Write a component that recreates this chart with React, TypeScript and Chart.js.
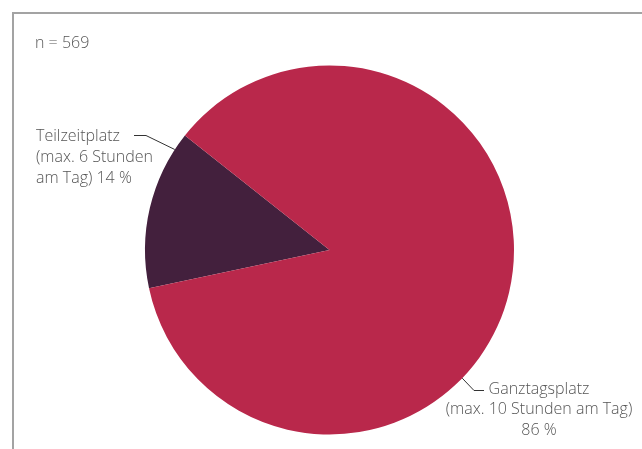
import React, { useEffect, useRef } from "react";
import { Chart, registerables } from "chart.js";

Chart.register(...registerables);

const categories = ["Teilzeitplatz", "Ganztagsplatz"];
const values = [14, 86];
const sliceColors = ["#43203D", "#B9284B"];
const labelLines = [
  ["Teilzeitplatz", "(max. 6 Stunden", "am Tag) 14 %"],
  ["Ganztagsplatz", "(max. 10 Stunden am Tag)", "86 %"],
];
const sampleNote = "n = 569";

const FONT = '300 16px "Open Sans", "Noto Sans", sans-serif';
const TEXT_COLOR = "#555555";

const decorPlugin = {
  id: "decor",
  beforeDraw(chart: any) {
    const ctx = chart.ctx;
    ctx.save();
    ctx.strokeStyle = "#a3a3a3";
    ctx.lineWidth = 2;
    ctx.beginPath();
    ctx.moveTo(13, 449);
    ctx.lineTo(13, 13);
    ctx.lineTo(642, 13);
    ctx.stroke();
    ctx.restore();
  },
  afterDraw(chart: any) {
    const ctx = chart.ctx;
    const meta = chart.getDatasetMeta(0);
    const arc0 = meta.data[0] as any;
    const cx = arc0.x;
    const cy = arc0.y;
    const r = arc0.outerRadius;
    ctx.save();
    ctx.font = FONT;
    ctx.fillStyle = TEXT_COLOR;
    ctx.textBaseline = "middle";
    ctx.textAlign = "left";
    ctx.fillText(sampleNote, 35, 43);

    const a0 = (213 * Math.PI) / 180;
    const p0x = cx + r * Math.cos(a0);
    const p0y = cy + r * Math.sin(a0);
    ctx.strokeStyle = "#333333";
    ctx.lineWidth = 1;
    ctx.beginPath();
    ctx.moveTo(134, 135.5);
    ctx.lineTo(146, 135.5);
    ctx.lineTo(p0x, p0y);
    ctx.stroke();
    ctx.textAlign = "left";
    labelLines[0].forEach((t, i) => ctx.fillText(t, 36, 136 + i * 21));

    const a1 = (44 * Math.PI) / 180;
    const p1x = cx + r * Math.cos(a1);
    const p1y = cy + r * Math.sin(a1);
    ctx.beginPath();
    ctx.moveTo(p1x, p1y);
    ctx.lineTo(474, 390.5);
    ctx.lineTo(484, 390.5);
    ctx.stroke();
    ctx.textAlign = "center";
    labelLines[1].forEach((t, i) => ctx.fillText(t, 539, 389 + i * 20.5));
    ctx.restore();
  },
};

export default function App() {
  const ref = useRef<HTMLCanvasElement | null>(null);
  useEffect(() => {
    if (!ref.current) return;
    const chart = new Chart(ref.current, {
      type: "pie",
      data: {
        labels: categories,
        datasets: [
          {
            data: values,
            backgroundColor: sliceColors,
            borderWidth: 0,
          },
        ],
      },
      options: {
        animation: false,
        responsive: false,
        rotation: 258,
        layout: { padding: { top: 65, bottom: 14, left: 145, right: 128 } },
        plugins: {
          legend: { display: false },
          tooltip: { enabled: false },
        },
      },
      plugins: [decorPlugin],
    });
    return () => chart.destroy();
  }, []);
  return (
    <div style={{ position: "fixed", left: 0, top: 0, width: 642, height: 449, background: "#fff" }}>
      <canvas ref={ref} width={642} height={449} style={{ display: "block" }} />
    </div>
  );
}
